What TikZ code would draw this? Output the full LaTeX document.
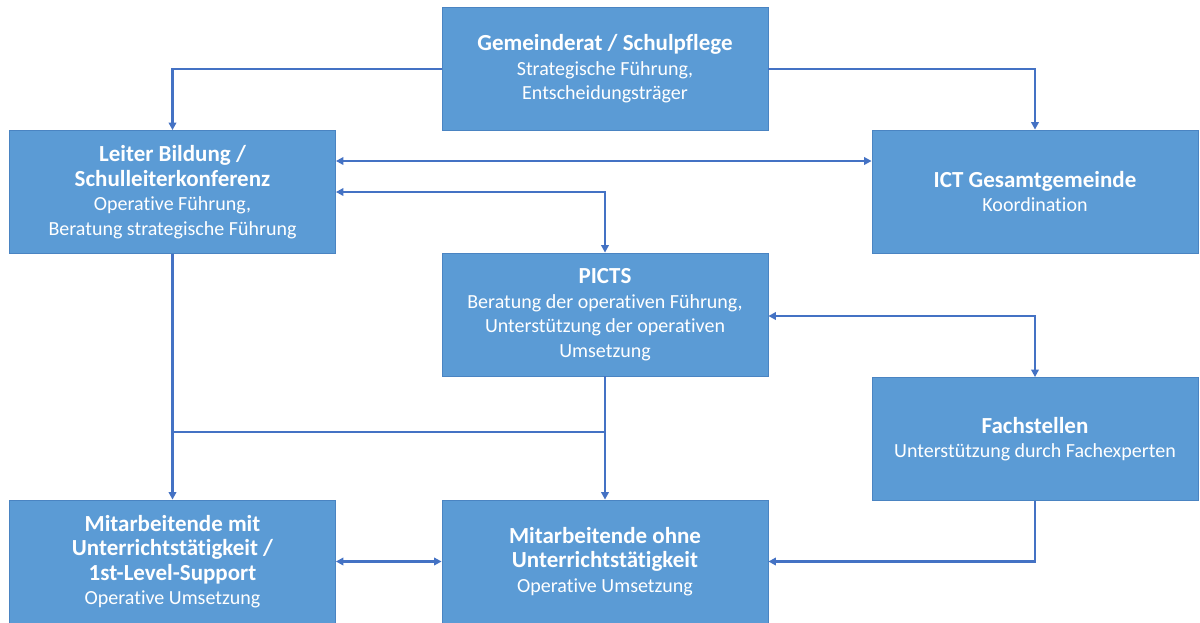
\documentclass[tikz,border=0pt]{standalone}
\usepackage{fontspec}
\setmainfont{Carlito}[Ligatures=NoCommon]
\usetikzlibrary{arrows.meta}
\definecolor{boxfill}{HTML}{5B9BD5}
\definecolor{boxline}{HTML}{4A84C2}
\definecolor{connc}{HTML}{4472C4}
\newcommand\boxtitle[1]{{\fontsize{23}{27}\selectfont\bfseries #1}}
\begin{document}
\begin{tikzpicture}[x=1pt,y=-1pt,
  box/.style={draw=boxline, line width=0.8pt, fill=boxfill, text=white, align=center,
    inner sep=0pt, minimum width=326pt, minimum height=123pt,
    font=\fontsize{20}{24.5}\selectfont},
  tip/.tip={Triangle[length=7.5pt,width=7.5pt]},
  conn/.style={draw=connc, line width=2.7pt, -tip},
  conn2/.style={draw=connc, line width=2.7pt, tip-tip},
  plain/.style={draw=connc, line width=2.7pt}]
\useasboundingbox (0,0) rectangle (1200,622);
\fill[white] (0,0) rectangle (1200,622);

\node[box] (g) at (605,69) {\boxtitle{Gemeinderat / Schulpflege}\\Strategische Führung,\\Entscheidungsträger};
\node[box] (l) at (172.5,192) {\boxtitle{Leiter Bildung /}\\\boxtitle{Schulleiterkonferenz}\\Operative Führung,\\Beratung strategische Führung};
\node[box] (ict) at (1035,191.5) {\boxtitle{ICT Gesamtgemeinde}\\Koordination};
\node[box] (p) at (605,314.5) {\boxtitle{PICTS}\\Beratung der operativen Führung,\\Unterstützung der operativen\\Umsetzung};
\node[box] (f) at (1035,439) {\boxtitle{Fachstellen}\\Unterstützung durch Fachexperten};
\node[box] (m1) at (172.5,561.5) {\boxtitle{Mitarbeitende mit}\\\boxtitle{Unterrichtstätigkeit /}\\\boxtitle{1st-Level-Support}\\Operative Umsetzung};
\node[box] (m2) at (605,561.5) {\boxtitle{Mitarbeitende ohne}\\\boxtitle{Unterrichtstätigkeit}\\Operative Umsetzung};

\coordinate (ya) at (0,161);
\coordinate (yb) at (0,316);
\coordinate (yj) at (0,432);

\draw[conn] (g.west) -| (l.north);
\draw[conn] (g.east) -| (ict.north);
\draw[conn2] (l.east |- ya) -- (ict.west |- ya);
\draw[conn2] (l.east) -| (p.north);
\draw[conn2] (p.east |- yb) -| (f.north);
\draw[conn] (l.south) -- (m1.north);
\draw[conn] (p.south) -- (m2.north);
\draw[plain] (l.south |- yj) -- (p.south |- yj);
\draw[conn2] (m1.east) -- (m2.west);
\draw[conn] (f.south) |- (m2.east);
\end{tikzpicture}
\end{document}
